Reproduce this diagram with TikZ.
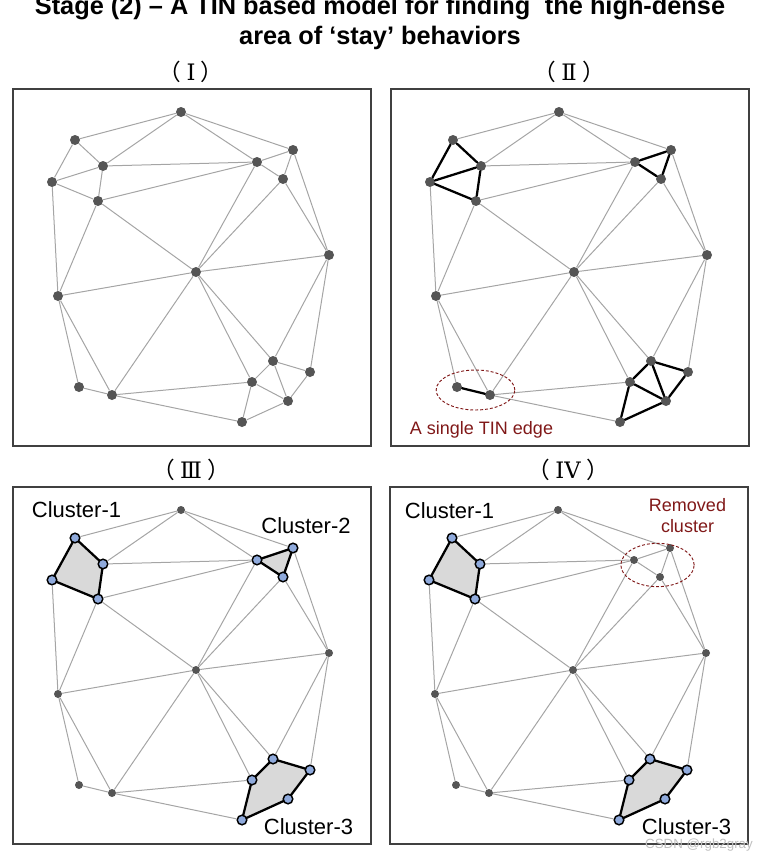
\documentclass[tikz,border=0pt]{standalone}
\usepackage{fontspec}
\setmainfont{Liberation Sans}
\newfontfamily\cjkparen{Noto Sans CJK SC}
\newfontfamily\romannum{DejaVu Serif}
\usetikzlibrary{backgrounds,shapes.geometric}
\definecolor{dotgray}{RGB}{85,85,85}
\definecolor{edgegray}{RGB}{165,165,165}
\definecolor{framegray}{RGB}{64,64,64}
\definecolor{clusterblue}{RGB}{143,170,220}
\definecolor{clusterfill}{RGB}{217,217,217}
\definecolor{notered}{RGB}{128,24,24}
% index/x/y/cluster group
\newcommand{\tinpoints}{1/181/112/0, 2/75/140/1, 3/103/166/1, 4/52/182/1, 5/98/201/1,
  6/257/162/2, 7/293/150/2, 8/283/179/2, 9/196/272/0, 10/329/255/0, 11/58/296/0,
  12/273/361/3, 13/310/372/3, 14/252/382/3, 15/288/401/3, 16/242/422/3, 17/79/387/0, 18/112/395/0}
\newcommand{\tinbase}{1/2,1/3,1/6,1/7,3/6,4/11,5/6,5/9,5/11,6/9,7/10,8/9,8/10,9/10,9/11,
  9/18,9/14,9/12,10/12,10/13,11/17,11/18,18/14,18/16}
\newcommand{\tinclusters}{2/3,2/4,3/4,3/5,4/5,6/7,7/8,6/8,12/14,12/13,12/15,13/15,14/15,14/16,15/16}
\newcommand{\tinsingle}{17/18}
\newcommand{\tinclustertwo}{6/7,7/8,6/8}
\newcommand{\tinnodes}[1]{\foreach \i/\px/\py/\g in \tinpoints {\node[dot\g] (#1\i) at (\px,\py) {};}}
\newcommand{\tinedges}[3]{\foreach \u/\v in #2 {\draw[#3] (#1\u) -- (#1\v);}}
\newcommand{\panelnum}[1]{{\cjkparen （}\hspace{4pt}{\romannum #1}\hspace{4pt}{\cjkparen ）}}
\begin{document}
\begin{tikzpicture}[x=0.75pt, y=-0.75pt,
  bigdot/.style={circle, fill=dotgray, inner sep=0pt, minimum size=7.5pt},
  smalldot/.style={circle, fill=dotgray, inner sep=0pt, minimum size=6pt},
  bluedot/.style={circle, fill=clusterblue, draw=black, line width=1.1pt, inner sep=0pt, minimum size=7.2pt},
  dot0/.style=bigdot, dot1/.style=bigdot, dot2/.style=bigdot, dot3/.style=bigdot,
  tin/.style={draw=edgegray, line width=0.75pt},
  tinbold/.style={draw=black, line width=1.7pt, line cap=round},
  cluster/.style={fill=clusterfill, draw=black, line width=1.7pt, line join=round},
  frame/.style={draw=framegray, line width=1pt},
  title/.style={font=\bfseries\fontsize{19}{22}\selectfont, anchor=base},
  numlab/.style={font=\fontsize{17}{20}\selectfont},
  cluslab/.style={font=\fontsize{16.5}{19}\selectfont},
  notelab/.style={text=notered, font=\fontsize{13.5}{15.75}\selectfont, align=center},
  ring/.style={ellipse, draw=notered, dashed, dash pattern=on 2.2pt off 1.5pt, line width=0.7pt, inner sep=0pt}]
\useasboundingbox (0,0) rectangle (760,856);
\node[title] (ttl1) at (380,15) {Stage (2) – A TIN based model for finding\hspace{0.3em} the high-dense};
\node[title] (ttl2) at (380,45) {area of ‘stay’ behaviors};
\begin{scope}
  \draw[frame] (13,89) rectangle (371,446);
  \node[numlab] (labI) at (191,72) {\panelnum{Ⅰ}};
  \tinnodes{a}
  \tinedges{a}{\tinbase}{tin}
  \tinedges{a}{\tinclusters}{tin}
  \tinedges{a}{\tinsingle}{tin}
\end{scope}
\begin{scope}[shift={(378,0)}]
  \draw[frame] (13,89) rectangle (371,446);
  \node[numlab] (labII) at (191,72) {\panelnum{Ⅱ}};
  \tinnodes{b}
  \tinedges{b}{\tinbase}{tin}
  \tinedges{b}{\tinclusters}{tinbold}
  \tinedges{b}{\tinsingle}{tinbold}
  \node[ring, minimum width=59pt, minimum height=30pt] (single) at (97.5,390) {};
  \node[notelab, anchor=base] (singlelab) at (103.5,434) {A single TIN edge};
\end{scope}
\begin{scope}[shift={(0,398)}, dot0/.style=smalldot, dot1/.style=bluedot, dot2/.style=bluedot, dot3/.style=bluedot]
  \draw[frame] (13,89) rectangle (371,446);
  \node[numlab] (labIII) at (191,72) {\panelnum{Ⅲ}};
  \tinnodes{c}
  \tinedges{c}{\tinbase}{tin}
  \tinedges{c}{\tinsingle}{tin}
  \begin{pgfonlayer}{background}
    \draw[cluster] (c2.center) -- (c3.center) -- (c5.center) -- (c4.center) -- cycle;
    \draw[cluster] (c6.center) -- (c7.center) -- (c8.center) -- cycle;
    \draw[cluster] (c14.center) -- (c12.center) -- (c13.center) -- (c15.center) -- (c16.center) -- cycle;
  \end{pgfonlayer}
  \node[cluslab] (c1lab) at (76.5,112) {Cluster-1};
  \node[cluslab] (c2lab) at (306,128) {Cluster-2};
  \node[cluslab] (c3lab) at (308.5,429) {Cluster-3};
\end{scope}
\begin{scope}[shift={(377,398)}, dot0/.style=smalldot, dot1/.style=bluedot, dot2/.style=smalldot, dot3/.style=bluedot]
  \draw[frame] (13,89) rectangle (371,446);
  \node[numlab] (labIV) at (191,72) {\panelnum{IV}};
  \tinnodes{d}
  \tinedges{d}{\tinbase}{tin}
  \tinedges{d}{\tinsingle}{tin}
  \tinedges{d}{\tinclustertwo}{tin}
  \begin{pgfonlayer}{background}
    \draw[cluster] (d2.center) -- (d3.center) -- (d5.center) -- (d4.center) -- cycle;
    \draw[cluster] (d14.center) -- (d12.center) -- (d13.center) -- (d15.center) -- (d16.center) -- cycle;
  \end{pgfonlayer}
  \node[ring, minimum width=55pt, minimum height=32.5pt] (removed) at (280.5,167) {};
  \node[notelab] (removedlab) at (310.5,117.5) {Removed\\cluster};
  \node[cluslab] (d1lab) at (72.5,113) {Cluster-1};
  \node[cluslab] (d3lab) at (309.5,429) {Cluster-3};
  \node[text=black!25, font=\fontsize{10}{12}\selectfont, anchor=base] (mark) at (322,450) {CSDN @rgb2gray};
\end{scope}
\end{tikzpicture}
\end{document}
